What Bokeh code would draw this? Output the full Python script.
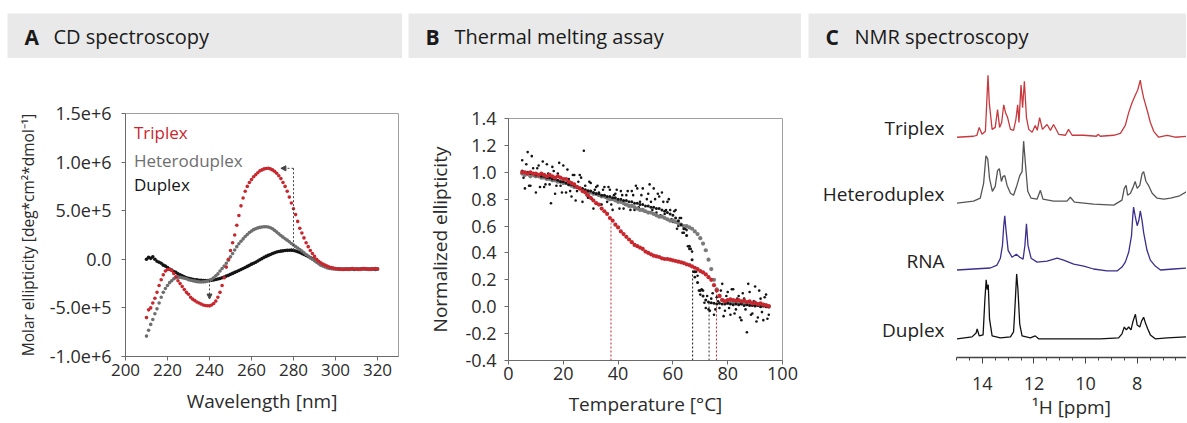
import numpy as np
from bokeh.plotting import figure
from bokeh.layouts import row, column, Spacer
from bokeh.models import Range1d, FixedTicker, Label, Arrow, NormalHead, NumeralTickFormatter
from bokeh.embed import file_html
from bokeh.resources import INLINE

FONT = "Open Sans"
TXT = "#2b2b2b"
RED = "#c8272e"
GRAY = "#6e6e6e"
BLACK = "#141414"
HDR = "#e9e9e9"

# ---------------- Panel A: CD spectroscopy (values in 1e6 deg*cm2*dmol-1) ----------------
cd_wavelength = list(range(210, 321))
cd_triplex = [
    -0.60, -0.52, -0.50, -0.45, -0.40, -0.34, -0.27, -0.21, -0.16, -0.12,
    -0.105, -0.105, -0.115, -0.145, -0.18, -0.22, -0.25, -0.28, -0.31, -0.34,
    -0.36, -0.39, -0.41, -0.425, -0.44, -0.45, -0.46, -0.47, -0.475, -0.478,
    -0.479, -0.47, -0.455, -0.43, -0.39, -0.34, -0.27, -0.19, -0.08, 0.0,
    0.09, 0.17, 0.25, 0.35, 0.45, 0.55, 0.63, 0.70, 0.75, 0.79,
    0.82, 0.85, 0.87, 0.89, 0.91, 0.92, 0.93, 0.935, 0.936, 0.93,
    0.92, 0.905, 0.885, 0.86, 0.83, 0.79, 0.75, 0.70, 0.64, 0.58,
    0.52, 0.46, 0.39, 0.32, 0.27, 0.22, 0.17, 0.13, 0.09, 0.06,
    0.03, 0.0, -0.02, -0.035, -0.05, -0.06, -0.07, -0.08, -0.085, -0.09,
    -0.095, -0.1, -0.1, -0.105, -0.1, -0.1, -0.105, -0.1, -0.095, -0.1,
    -0.1, -0.105, -0.1, -0.1, -0.095, -0.1, -0.105, -0.1, -0.1, -0.095, -0.1]
cd_heteroduplex = [
    -0.79, -0.73, -0.67, -0.62, -0.56, -0.51, -0.45, -0.39, -0.34, -0.30,
    -0.27, -0.24, -0.22, -0.20, -0.19, -0.185, -0.185, -0.19, -0.195, -0.20,
    -0.21, -0.215, -0.22, -0.225, -0.23, -0.232, -0.233, -0.232, -0.23, -0.225,
    -0.22, -0.205, -0.19, -0.17, -0.15, -0.12, -0.095, -0.07, -0.04, -0.01,
    0.025, 0.06, 0.095, 0.13, 0.16, 0.185, 0.21, 0.235, 0.255, 0.275,
    0.29, 0.305, 0.315, 0.323, 0.328, 0.332, 0.335, 0.335, 0.333, 0.325,
    0.315, 0.298, 0.28, 0.262, 0.245, 0.228, 0.212, 0.197, 0.18, 0.163,
    0.147, 0.13, 0.115, 0.1, 0.085, 0.068, 0.05, 0.033, 0.015, 0.0,
    -0.015, -0.03, -0.045, -0.06, -0.07, -0.08, -0.088, -0.093, -0.097, -0.1,
    -0.1, -0.1, -0.105, -0.1, -0.1, -0.1, -0.1, -0.105, -0.1, -0.1,
    -0.1, -0.1, -0.105, -0.1, -0.1, -0.1, -0.1, -0.105, -0.1, -0.1, -0.1]
cd_duplex = [
    0.0, 0.02, 0.01, 0.025, 0.0, -0.02, -0.03, -0.04, -0.06, -0.07,
    -0.085, -0.1, -0.11, -0.125, -0.135, -0.15, -0.16, -0.17, -0.18, -0.19,
    -0.195, -0.2, -0.205, -0.21, -0.212, -0.215, -0.217, -0.218, -0.218, -0.218,
    -0.217, -0.215, -0.212, -0.208, -0.203, -0.197, -0.19, -0.182, -0.173, -0.165,
    -0.155, -0.145, -0.135, -0.125, -0.115, -0.105, -0.095, -0.085, -0.073, -0.062,
    -0.05, -0.04, -0.03, -0.018, -0.005, 0.007, 0.02, 0.03, 0.04, 0.05,
    0.06, 0.068, 0.075, 0.08, 0.084, 0.087, 0.09, 0.092, 0.093, 0.094,
    0.09, 0.085, 0.078, 0.07, 0.06, 0.05, 0.04, 0.028, 0.017, 0.005,
    -0.008, -0.02, -0.033, -0.045, -0.057, -0.067, -0.076, -0.084, -0.09, -0.095,
    -0.098, -0.1, -0.1, -0.1, -0.105, -0.1, -0.1, -0.1, -0.1, -0.105,
    -0.1, -0.1, -0.1, -0.095, -0.1, -0.1, -0.1, -0.1, -0.1, -0.105, -0.1]
cd_xticks = [200, 220, 240, 260, 280, 300, 320]
cd_yticks = [-1000000, -500000, 0, 500000, 1000000, 1500000]
cd_yticklabels = ["-1.0e+6", "-5.0e+5", "0.0", "5.0e+5", "1.0e+6", "1.5e+6"]
cd_names = ["Triplex", "Heteroduplex", "Duplex"]

# ---------------- Panel B: thermal melting ----------------
melt_temp = list(range(5, 96))
melt_triplex = [
    1.00, 1.00, 0.99, 1.00, 0.99, 0.99, 0.98, 0.99, 0.98, 0.97,
    0.98, 0.97, 0.96, 0.97, 0.96, 0.95, 0.95, 0.93, 0.92, 0.91,
    0.89, 0.88, 0.86, 0.85, 0.83, 0.81, 0.79, 0.77, 0.76, 0.73,
    0.71, 0.69, 0.66, 0.64, 0.61, 0.59, 0.56, 0.54, 0.52, 0.50,
    0.48, 0.46, 0.45, 0.44, 0.43, 0.41, 0.40, 0.39, 0.38, 0.375,
    0.37, 0.36, 0.355, 0.355, 0.35, 0.345, 0.34, 0.335, 0.33, 0.325,
    0.315, 0.31, 0.30, 0.29, 0.28, 0.265, 0.255, 0.24, 0.22, 0.20,
    0.16, 0.12, 0.08, 0.05, 0.04, 0.05, 0.055, 0.05, 0.045, 0.05,
    0.04, 0.045, 0.035, 0.04, 0.025, 0.03, 0.02, 0.025, 0.015, 0.01, 0.005]
melt_heteroduplex = [
    0.99, 0.98, 0.99, 0.97, 0.98, 0.97, 0.97, 0.96, 0.96, 0.95,
    0.95, 0.94, 0.94, 0.93, 0.93, 0.92, 0.92, 0.91, 0.90, 0.89,
    0.89, 0.88, 0.87, 0.86, 0.86, 0.85, 0.84, 0.84, 0.83, 0.82,
    0.82, 0.81, 0.80, 0.80, 0.79, 0.78, 0.78, 0.77, 0.76, 0.75,
    0.75, 0.74, 0.73, 0.72, 0.72, 0.71, 0.70, 0.70, 0.69, 0.68,
    0.67, 0.67, 0.66, 0.65, 0.64, 0.64, 0.63, 0.62, 0.61, 0.60,
    0.60, 0.59, 0.58, 0.56, 0.54, 0.51, 0.47, 0.42, 0.35, 0.28,
    0.20, 0.13, 0.08, 0.05, 0.04, 0.03, 0.04, 0.03, 0.035, 0.03,
    0.025, 0.03, 0.02, 0.025, 0.02, 0.02, 0.015, 0.02, 0.01, 0.01, 0.0]
melt_duplex = [
    1.01, 1.00, 1.00, 0.99, 0.99, 0.98, 0.98, 0.97, 0.97, 0.96,
    0.96, 0.95, 0.95, 0.94, 0.93, 0.93, 0.92, 0.91, 0.91, 0.90,
    0.89, 0.88, 0.88, 0.87, 0.86, 0.86, 0.85, 0.84, 0.84, 0.83,
    0.83, 0.82, 0.82, 0.81, 0.81, 0.80, 0.80, 0.79, 0.79, 0.78,
    0.78, 0.77, 0.77, 0.76, 0.76, 0.75, 0.75, 0.74, 0.74, 0.73,
    0.73, 0.72, 0.71, 0.70, 0.69, 0.68, 0.66, 0.64, 0.61, 0.58,
    0.53, 0.45, 0.35, 0.26, 0.18, 0.12, 0.08, 0.05, 0.035, 0.03,
    0.025, 0.02, 0.025, 0.02, 0.02, 0.025, 0.02, 0.015, 0.02, 0.015,
    0.02, 0.01, 0.015, 0.01, 0.01, 0.005, 0.01, 0.0, 0.005, 0.0, 0.0]
# widely scattered duplex replicate points (integer and half-degree readings)
melt_scatter_temp_a = list(range(5, 96))
melt_scatter_a = [
    1.09, 0.88, 1.15, 0.90, 1.03, 0.85, 1.05, 0.99, 0.89, 1.06,
    0.91, 1.04, 0.84, 0.99, 0.90, 1.05, 0.85, 0.95, 0.82, 0.98,
    0.86, 0.98, 0.78, 0.90, 0.81, 0.92, 0.73, 0.89, 0.85, 0.76,
    0.89, 0.78, 0.87, 0.72, 0.84, 0.78, 0.86, 0.73, 0.83, 0.75,
    0.86, 0.72, 0.88, 0.78, 0.88, 0.71, 0.84, 0.78, 0.88, 0.70,
    0.82, 0.85, 0.69, 0.78, 0.72, 0.63, 0.72, 0.60, 0.66, 0.55,
    0.57, 0.43, 0.41, 0.22, 0.23, 0.09, 0.12, -0.01, -0.02, 0.06,
    -0.06, 0.07, -0.01, 0.17, -0.03, 0.11, -0.06, 0.13, -0.02, 0.08,
    -0.10, 0.06, -0.19, 0.11, -0.05, 0.15, -0.08, 0.06, -0.10, 0.09, -0.06]
melt_scatter_temp_b = [t + 0.5 for t in range(5, 95)]
melt_scatter_b = [
    0.96, 1.06, 0.90, 1.12, 0.97, 1.03, 0.89, 1.08, 0.91, 0.99,
    0.77, 1.01, 0.90, 1.07, 0.85, 0.95, 1.02, 0.86, 0.98, 0.79,
    0.93, 0.96, 1.16, 0.83, 0.93, 0.80, 0.87, 0.90, 0.76, 0.87,
    0.81, 0.89, 0.76, 0.83, 0.87, 0.73, 0.83, 0.76, 0.86, 0.72,
    0.83, 0.90, 0.74, 0.83, 0.71, 0.80, 0.91, 0.72, 0.80, 0.84,
    0.68, 0.78, 0.72, 0.80, 0.65, 0.71, 0.58, 0.66, 0.55, 0.58,
    0.45, 0.43, 0.26, 0.26, 0.12, 0.13, 0.03, 0.08, -0.03, 0.10,
    -0.02, 0.04, 0.12, -0.07, 0.08, -0.01, 0.13, -0.05, 0.06, -0.08,
    0.10, -0.02, 0.17, -0.06, 0.04, -0.11, 0.12, -0.04, 0.07, -0.09]
melt_tm = [37.4, 67.2, 73.2, 75.9]
melt_tm_top = [0.62, 0.27, 0.04, 0.14]
melt_tm_color = [RED, BLACK, "#333333", RED]

# ---------------- Panel C: 1H NMR spectra (relative intensity) ----------------
nmr_names = ["Triplex", "Heteroduplex", "RNA", "Duplex"]
nmr_triplex_ppm = [14.98, 14.34, 14.21, 14.12, 14.01, 13.88, 13.82, 13.78, 13.73, 13.62, 13.5, 13.41, 13.33,
                   13.25, 13.17, 13.1, 13.02, 12.91, 12.79, 12.7, 12.63, 12.58, 12.5, 12.44, 12.37, 12.29,
                   12.2, 12.07, 11.95, 11.87, 11.78, 11.67, 11.49, 11.36, 11.24, 11.04, 10.78, 10.66,
                   10.52, 10.07, 9.58, 9.52, 9.43, 8.91, 8.65, 8.46, 8.33, 8.2, 8.07, 7.98, 7.91, 7.88,
                   7.83, 7.75, 7.62, 7.49, 7.36, 7.17, 6.84, 6.52, 6.07]
nmr_triplex_int = [0, 1, 2, 10, 3, 6, 40, 63, 35, 8, 10, 28, 10,
                   15, 33, 25, 20, 8, 7, 18, 33, 15, 53, 30, 57, 20,
                   8, 5, 12, 7, 20, 8, 13, 7, 13, 3, 2, 8,
                   2, 2, 1, 3, 1, 2, 4, 12, 25, 35, 43, 48, 55, 58,
                   50, 40, 28, 15, 6, 0, 2, 0, 1]
nmr_hetero_ppm = [14.98, 14.34, 14.08, 13.95, 13.86, 13.79, 13.72, 13.61, 13.5, 13.41, 13.34, 13.26, 13.2,
                  13.13, 13.04, 12.91, 12.79, 12.66, 12.55, 12.46, 12.4, 12.33, 12.24, 12.11, 11.88, 11.75,
                  11.65, 11.24, 10.72, 10.59, 10.43, 9.69, 8.91, 8.59, 8.5, 8.43, 8.37, 8.26, 8.16, 8.08,
                  8.0, 7.9, 7.81, 7.75, 7.66, 7.56, 7.42, 7.23, 6.97, 6.71, 6.39, 6.07]
nmr_hetero_int = [0, 2, 5, 20, 48, 45, 25, 12, 17, 33, 35, 22, 27,
                  28, 18, 10, 8, 18, 28, 32, 63, 40, 12, 5, 4, 13,
                  4, 2, 2, 6, 1, -1, -2, 3, 15, 18, 8, 10, 16, 22,
                  15, 18, 30, 32, 22, 18, 10, 5, 4, 5, 7, 12]
nmr_rna_ppm = [14.98, 14.34, 13.69, 13.43, 13.3, 13.22, 13.17, 13.13, 13.08, 13.0, 12.85, 12.68, 12.55,
               12.42, 12.35, 12.29, 12.23, 12.11, 11.88, 11.49, 11.1, 10.85, 10.46, 10.07, 9.69, 9.17,
               8.78, 8.59, 8.46, 8.33, 8.22, 8.17, 8.14, 8.08, 8.0, 7.94, 7.88, 7.81, 7.75, 7.62, 7.49,
               7.3, 7.1, 6.59, 6.07]
nmr_rna_int = [0, 1, 2, 5, 12, 25, 45, 55, 40, 20, 13, 16, 13,
               11, 25, 47, 25, 12, 8, 9, 12, 10, 6, 4, 1, -1,
               -1, 3, 8, 18, 35, 55, 64, 55, 45, 50, 60, 50, 38, 20, 10,
               4, 0, 1, 2]
nmr_duplex_ppm = [14.98, 14.4, 14.24, 14.2, 14.12, 13.97, 13.9, 13.85, 13.81, 13.77, 13.72, 13.62, 13.3,
                  12.91, 12.79, 12.75, 12.71, 12.67, 12.62, 12.55, 12.46, 12.14, 11.95, 11.82, 10.72, 9.43,
                  8.72, 8.59, 8.5, 8.42, 8.33, 8.24, 8.16, 8.07, 8.0, 7.9, 7.83, 7.75, 7.68, 7.59, 7.49,
                  7.3, 6.84, 6.07]
nmr_duplex_int = [0, 2, 6, 10, 3, 4, 40, 60, 50, 55, 20, 3, 1,
                  2, 7, 25, 45, 66, 50, 15, 3, 1, 3, 0, 0, 0,
                  1, 5, 12, 9, 12, 9, 18, 25, 14, 12, 18, 22, 16, 10, 4,
                  0, 1, 2]
nmr_xticks = [8, 10, 12, 14]
nmr_minor_ticks = [6.5 + 0.5 * i for i in range(18)]


def style_axes(p, tick_size="17px", label_size="19px"):
    for ax in p.axis:
        ax.major_label_text_font = FONT
        ax.major_label_text_font_size = tick_size
        ax.major_label_text_color = TXT
        ax.axis_label_text_font = FONT
        ax.axis_label_text_font_size = label_size
        ax.axis_label_text_font_style = "normal"
        ax.axis_label_text_color = TXT
        ax.axis_line_color = "#6a6a6a"
        ax.major_tick_line_color = "#6a6a6a"
        ax.minor_tick_line_color = None
        ax.major_tick_out = 4
        ax.major_tick_in = 0
    p.grid.visible = False
    p.outline_line_color = "#a0a0a0"


def header(letter, title, width):
    h = figure(width=width, height=45, x_range=Range1d(0, 1), y_range=Range1d(0, 1),
               output_backend="svg", toolbar_location=None, min_border=0,
               x_axis_location=None, y_axis_location=None)
    h.grid.visible = False
    h.outline_line_color = None
    h.background_fill_color = HDR
    h.border_fill_color = HDR
    h.add_layout(Label(x=17, y=22, x_units="screen", y_units="screen", text=letter,
                       text_font=FONT, text_font_style="bold", text_font_size="21px",
                       text_baseline="middle", text_color="#1a1a1a"))
    h.add_layout(Label(x=46, y=22, x_units="screen", y_units="screen", text=title,
                       text_font=FONT, text_font_size="20px",
                       text_baseline="middle", text_color="#1a1a1a"))
    return h


# ---------- Panel A ----------
pA = figure(width=395, height=364, x_range=Range1d(200, 330), y_range=Range1d(-1.0e6, 1.5e6),
            output_backend="svg", toolbar_location=None,
            min_border_left=118, min_border_right=4, min_border_top=55, min_border_bottom=66,
            x_axis_label="Wavelength [nm]", y_axis_label="Molar ellipticity [deg*cm²*dmol⁻¹]")
style_axes(pA)
pA.yaxis.axis_label_text_font_size = "15.5px"
pA.yaxis.major_label_text_font_size = "18px"
pA.xaxis.ticker = FixedTicker(ticks=cd_xticks)
pA.yaxis.ticker = FixedTicker(ticks=cd_yticks)
pA.yaxis.major_label_overrides = {int(t): lab for t, lab in zip(cd_yticks, cd_yticklabels)}
pA.yaxis.major_label_standoff = 10
pA.xaxis.major_label_standoff = 3
pA.yaxis.axis_label_standoff = 8
pA.xaxis.axis_label_standoff = 9

wl = np.array(cd_wavelength)
series_A = [(cd_duplex, BLACK), (cd_heteroduplex, GRAY), (cd_triplex, RED)]
for vals, col in series_A:
    pA.scatter(wl, np.array(vals) * 1e6, size=3.6, color=col, line_color=None)

tri = np.array(cd_triplex) * 1e6
dup = np.array(cd_duplex) * 1e6
tri_max_x = wl[np.argmax(tri)]
dup_max_x = wl[np.argmax(dup)] + 1
trough = wl >= 225
tri_min_x = wl[trough][np.argmin(tri[trough])]
tri_min_y = tri[trough].min()
ARW = "#444444"
pA.segment(x0=[dup_max_x], y0=[dup.max()], x1=[dup_max_x], y1=[tri.max()],
           line_color=ARW, line_dash="2 2", line_width=1)
pA.add_layout(Arrow(x_start=dup_max_x, y_start=tri.max(), x_end=tri_max_x + 6, y_end=tri.max(),
                    line_color=ARW, line_dash="2 2", line_width=1,
                    end=NormalHead(size=5, fill_color=ARW, line_color=ARW)))
pA.add_layout(Arrow(x_start=tri_min_x, y_start=np.interp(tri_min_x, wl, dup), x_end=tri_min_x,
                    y_end=tri_min_y + 0.07e6,
                    line_color=ARW, line_dash="2 2", line_width=1,
                    end=NormalHead(size=5, fill_color=ARW, line_color=ARW)))
for name, col, yv in zip(cd_names, [RED, GRAY, BLACK], [1.30e6, 1.02e6, 0.765e6]):
    pA.add_layout(Label(x=204, y=yv, text=name, text_font=FONT, text_font_size="17px",
                        text_color=col, text_baseline="middle"))

# ---------- Panel B ----------
pB = figure(width=393, height=364, x_range=Range1d(0, 100), y_range=Range1d(-0.4, 1.4),
            output_backend="svg", toolbar_location=None,
            min_border_left=100, min_border_right=19, min_border_top=60, min_border_bottom=62,
            x_axis_label="Temperature [°C]", y_axis_label="Normalized ellipticity")
style_axes(pB)
pB.xaxis.ticker = FixedTicker(ticks=[0, 20, 40, 60, 80, 100])
pB.yaxis.ticker = FixedTicker(ticks=[-0.4, -0.2, 0.0, 0.2, 0.4, 0.6, 0.8, 1.0, 1.2, 1.4])
pB.yaxis.formatter = NumeralTickFormatter(format="0.0")
pB.yaxis.major_label_text_font_size = "18px"
pB.xaxis.major_label_text_font_size = "18px"
pB.yaxis.major_label_standoff = 8
pB.xaxis.major_label_standoff = 2
pB.yaxis.axis_label_standoff = 9
pB.xaxis.axis_label_standoff = 8

pB.segment(x0=melt_tm, y0=[-0.4] * len(melt_tm), x1=melt_tm, y1=melt_tm_top,
           line_color=melt_tm_color, line_dash="2 2", line_width=1)
pB.scatter(melt_scatter_temp_a, melt_scatter_a, size=2.6, color=BLACK, line_color=None)
pB.scatter(melt_scatter_temp_b, melt_scatter_b, size=2.6, color=BLACK, line_color=None)
pB.scatter(melt_temp, melt_heteroduplex, size=4.2, color="#7a7a7a", line_color=None)
pB.scatter(melt_temp, melt_duplex, size=3.0, color=BLACK, line_color=None)
pB.scatter(melt_temp, melt_triplex, size=4.2, color=RED, line_color=None)

# ---------- Panel C ----------
nmr_offsets = [224, 157, 89, 19]
nmr_colors = ["#c8393e", "#555555", "#3a2f8c", "#111111"]
pC = figure(width=378, height=364, x_range=Range1d(15, 6.09), y_range=Range1d(0, 300),
            output_backend="svg", toolbar_location=None,
            min_border_left=148, min_border_right=0, min_border_top=4, min_border_bottom=60,
            x_axis_label="¹H [ppm]")
style_axes(pC)
pC.outline_line_color = None
pC.xaxis.ticker = FixedTicker(ticks=nmr_xticks, minor_ticks=nmr_minor_ticks)
pC.xaxis.axis_line_color = "#444444"
pC.xaxis.axis_line_width = 1.3
pC.xaxis.major_tick_line_color = "#444444"
pC.xaxis.minor_tick_line_color = "#444444"
pC.xaxis.major_tick_out = 6
pC.xaxis.minor_tick_out = 3
pC.xaxis.minor_tick_in = 0
pC.xaxis.major_label_text_font_size = "18px"
pC.xaxis.major_label_standoff = 13
pC.xaxis.axis_label_standoff = 1
label_ticks = [off + 9 for off in nmr_offsets]
pC.yaxis.ticker = FixedTicker(ticks=label_ticks)
pC.yaxis.major_label_overrides = {int(t): n for t, n in zip(label_ticks, nmr_names)}
pC.yaxis.axis_line_color = None
pC.yaxis.major_tick_line_color = None
pC.yaxis.major_label_text_font_size = "19px"
pC.yaxis.major_label_text_color = "#222222"
pC.yaxis.major_label_standoff = 8

spectra = [(nmr_triplex_ppm, nmr_triplex_int), (nmr_hetero_ppm, nmr_hetero_int),
           (nmr_rna_ppm, nmr_rna_int), (nmr_duplex_ppm, nmr_duplex_int)]
for (ppm, inten), off, col in zip(spectra, nmr_offsets, nmr_colors):
    pC.line(ppm, np.array(inten) + off, line_color=col, line_width=1.3)

headers = row(Spacer(width=7), column(header("A", "CD spectroscopy", 395)), Spacer(width=6),
              column(header("B", "Thermal melting assay", 393)), Spacer(width=7),
              column(header("C", "NMR spectroscopy", 378)), spacing=0)
plots = row(Spacer(width=7), column(pA), Spacer(width=6), column(pB), Spacer(width=7),
            column(pC), spacing=0)
layout = column(Spacer(height=13), headers, plots, spacing=0)

open("out.html", "w").write(file_html(layout, INLINE))
